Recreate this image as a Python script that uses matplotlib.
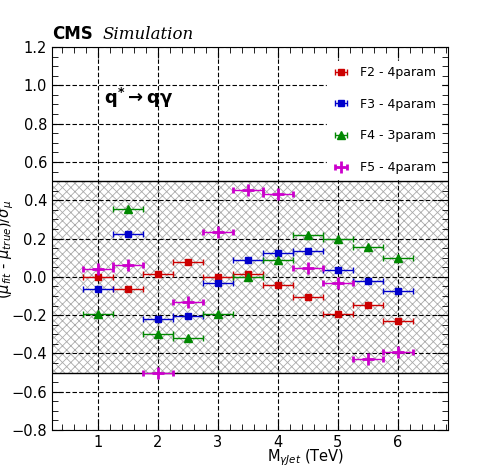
import matplotlib
matplotlib.use('Agg')
import matplotlib.pyplot as plt
from matplotlib.ticker import MultipleLocator
import numpy as np

masses = [1.0, 1.5, 2.0, 2.5, 3.0, 3.5, 4.0, 4.5, 5.0, 5.5, 6.0]
f2 = [0.0, -0.065, 0.015, 0.075, 0.0, 0.015, -0.045, -0.105, -0.195, -0.145, -0.23]
f3 = [-0.065, 0.225, -0.22, -0.205, -0.03, 0.09, 0.125, 0.135, 0.035, -0.02, -0.075]
f4 = [-0.195, 0.355, -0.30, -0.32, -0.195, 0.0, 0.09, 0.22, 0.2, 0.155, 0.10]
f5 = [0.04, 0.06, -0.50, -0.13, 0.235, 0.455, 0.435, 0.045, -0.03, -0.43, -0.39]
xerr = 0.25

plt.rcParams['hatch.color'] = '#aaaaaa'
plt.rcParams['hatch.linewidth'] = 0.6
fig = plt.figure(figsize=(4.98, 4.76), dpi=100)
ax = fig.add_axes([0.104, 0.0966, 0.795, 0.8046])

ax.fill_between([0.23, 6.83], -0.5, 0.5, facecolor='white', edgecolor='#aaaaaa', hatch='xxxx', linewidth=0, zorder=0)
ax.axhline(0.5, color='black', lw=1, zorder=1)
ax.axhline(-0.5, color='black', lw=1, zorder=1)

series = [(f2, '#cc0000', 's', 'F2 - 4param', 4),
          (f3, '#0000cc', 's', 'F3 - 4param', 5),
          (f4, '#008800', '^', 'F4 - 3param', 6),
          (f5, '#cc00cc', '+', 'F5 - 4param', 9)]
for vals, c, m, lab, ms in series:
  ax.errorbar(masses, vals, xerr=xerr, fmt=m, color=c, ms=ms, mew=2 if m == '+' else 1,
              elinewidth=1, capsize=2, label=lab, zorder=3)

ax.set_xlim(0.23, 6.83)
ax.set_ylim(-0.8, 1.2)
ax.xaxis.set_major_locator(MultipleLocator(1))
ax.xaxis.set_minor_locator(MultipleLocator(0.2))
ax.yaxis.set_major_locator(MultipleLocator(0.2))
ax.yaxis.set_minor_locator(MultipleLocator(0.05))
ax.tick_params(which='both', direction='in', top=True, right=True, labelsize=10.5)
ax.tick_params(which='major', length=8)
ax.tick_params(which='minor', length=4)
ax.grid(True, which='major', color='black', linestyle=(0, (4, 2)), lw=0.8)
ax.set_axisbelow(False)
ax.set_xlabel(r'M$_{\gamma Jet}$ (TeV)', fontsize=10.5, loc='right')
ax.xaxis.set_label_coords(0.74, -0.045)
ax.set_ylabel(r'($\mu_{fit}$ - $\mu_{true}$)/$\sigma_{\mu}$', fontsize=10.5, loc='top')
ax.yaxis.set_label_coords(-0.09, 0.6)

leg = ax.legend(loc='upper right', bbox_to_anchor=(1.0, 0.98), frameon=True, fontsize=9,
                labelspacing=1.5, handlelength=1.5)
leg.get_frame().set_edgecolor('white')
leg.get_frame().set_facecolor('white')
leg.get_frame().set_alpha(1)

fig.text(0.104, 0.91, 'CMS', fontsize=12, fontweight='bold', ha='left', va='bottom')
fig.text(0.205, 0.91, 'Simulation', fontsize=12, style='italic', family='serif', ha='left', va='bottom')
ax.text(1.1, 0.9, r'$\mathbf{q^{*} \rightarrow q\gamma}$', fontsize=13, transform=ax.transData)

fig.savefig('out.png', dpi=100)
